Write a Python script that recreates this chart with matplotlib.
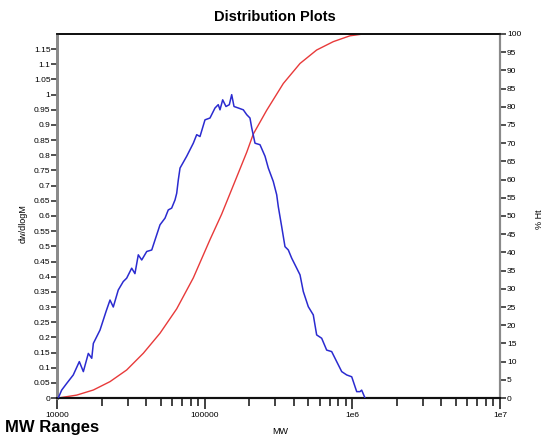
import numpy as np
import matplotlib
matplotlib.use("Agg")
import matplotlib.pyplot as plt
from matplotlib.ticker import FixedLocator, NullFormatter

plt.rcParams['font.family'] = ['Liberation Sans', 'DejaVu Sans']

# Molecular weight distribution (dw/dlogM)
mw_dist = [10120, 10670, 11540, 12790, 14060, 14970, 16180, 17070, 17500, 19420,
           21330, 22700, 23890, 25820, 27920, 29440, 31840, 33500, 35300, 37240,
           40270, 43550, 45830, 49550, 53580, 56370, 59430, 62630, 64300, 65930,
           67720, 75160, 83330, 87860, 92480, 100000, 108100, 116900, 123000, 126400,
           131800, 138800, 146200, 151700, 157300, 168300, 181900, 191800, 201800, 207500,
           218300, 236000, 255300, 268700, 290300, 306300, 314000, 331100, 348600, 367200,
           387100, 418600, 440800, 464000, 501700, 542200, 571600, 618100, 668300, 722600,
           781300, 845200, 913900, 988100, 1068000, 1124000, 1154000, 1216000]
dwdlogm = [0.0, 0.026, 0.048, 0.076, 0.12, 0.087, 0.147, 0.131, 0.18, 0.224,
           0.285, 0.323, 0.30, 0.356, 0.384, 0.395, 0.428, 0.41, 0.472, 0.455,
           0.483, 0.488, 0.521, 0.571, 0.593, 0.62, 0.626, 0.653, 0.675, 0.719,
           0.758, 0.797, 0.84, 0.868, 0.862, 0.917, 0.923, 0.956, 0.967, 0.95,
           0.983, 0.961, 0.967, 1.0, 0.961, 0.956, 0.95, 0.934, 0.923, 0.89,
           0.84, 0.835, 0.797, 0.758, 0.714, 0.67, 0.631, 0.565, 0.499, 0.488,
           0.461, 0.428, 0.406, 0.351, 0.301, 0.274, 0.208, 0.197, 0.158, 0.153,
           0.12, 0.087, 0.076, 0.07, 0.021, 0.021, 0.026, 0.0]

# Cumulative weight fraction (% Ht)
mw_cum = [10080, 13500, 17500, 22700, 29440, 38190, 49550, 64300, 83330, 108100,
          129700, 159600, 191800, 212500, 261600, 339600, 440800, 571600, 741300,
          961200, 1183000, 1355000]
pct_ht = [0.0, 0.8, 2.2, 4.5, 7.7, 12.3, 17.8, 24.5, 33.0, 43.5,
          50.5, 59.5, 67.5, 72.5, 79.0, 86.4, 91.9, 95.6, 97.9,
          99.5, 100.0, 100.0]

left_ticks = [round(0.05 * i, 2) for i in range(24)]
left_labels = ['%g' % v for v in left_ticks]
right_ticks = list(range(0, 101, 5))
x_major = [1e4, 1e5, 1e6, 1e7]
x_labels = ['10000', '100000', '1e6', '1e7']

fig = plt.figure(figsize=(5.45, 4.38), dpi=100)
ax = fig.add_axes([0.1055, 0.0913, 0.8119, 0.8311])
ax2 = ax.twinx()

ax.plot(mw_dist, dwdlogm, color='#2b2bd0', lw=1.1, zorder=3)
ax2.plot(mw_cum, pct_ht, color='#e83a3a', lw=1.0)

ax.set_xscale('log')
ax.set_xlim(1e4, 1e7)
ax.set_ylim(0, 1.2)
ax2.set_ylim(0, 100)
ax.set_zorder(ax2.get_zorder() + 1)
ax.patch.set_visible(False)

ax.xaxis.set_major_locator(FixedLocator(x_major))
ax.set_xticklabels(x_labels)
ax.xaxis.set_minor_locator(FixedLocator(
    [m * 10 ** d for d in range(4, 7) for m in range(2, 10)]))
ax.xaxis.set_minor_formatter(NullFormatter())
ax.set_yticks(left_ticks)
ax.set_yticklabels(left_labels)
ax2.set_yticks(right_ticks)
ax2.set_yticklabels([str(v) for v in right_ticks])

tick_font = 6.0
ax.tick_params(axis='x', which='major', direction='out', length=8, width=1.3,
               color='#333333', labelsize=tick_font, pad=2)
ax.tick_params(axis='x', which='minor', direction='out', length=6, width=1.3,
               color='#333333')
ax.tick_params(axis='y', direction='out', length=4, width=1.2, color='#333333',
               labelsize=tick_font, pad=1)
ax2.tick_params(axis='y', direction='out', length=4, width=1.2, color='#333333',
                labelsize=tick_font, pad=1)

for a in (ax, ax2):
    a.spines['left'].set_color('#8a8a8a')
    a.spines['left'].set_linewidth(2.0)
    a.spines['right'].set_color('#8a8a8a')
    a.spines['right'].set_linewidth(1.5)
    a.spines['top'].set_color('#111111')
    a.spines['top'].set_linewidth(1.3)
    a.spines['bottom'].set_color('#111111')
    a.spines['bottom'].set_linewidth(1.5)

fig.text(0.505, 0.962, 'Distribution Plots', ha='center', va='center',
         fontsize=10.5, fontweight='bold')
fig.text(0.009, 0.023, 'MW Ranges', ha='left', va='center',
         fontsize=12, fontweight='bold')
fig.text(0.514, 0.015, 'MW', ha='center', va='center', fontsize=6.5)
fig.text(0.042, 0.49, 'dw/dlogM', ha='center', va='center', rotation=90, fontsize=6.5)
fig.text(0.99, 0.5, '% Ht', ha='center', va='center', rotation=90, fontsize=6.5)

fig.savefig('out.png', dpi=100)
